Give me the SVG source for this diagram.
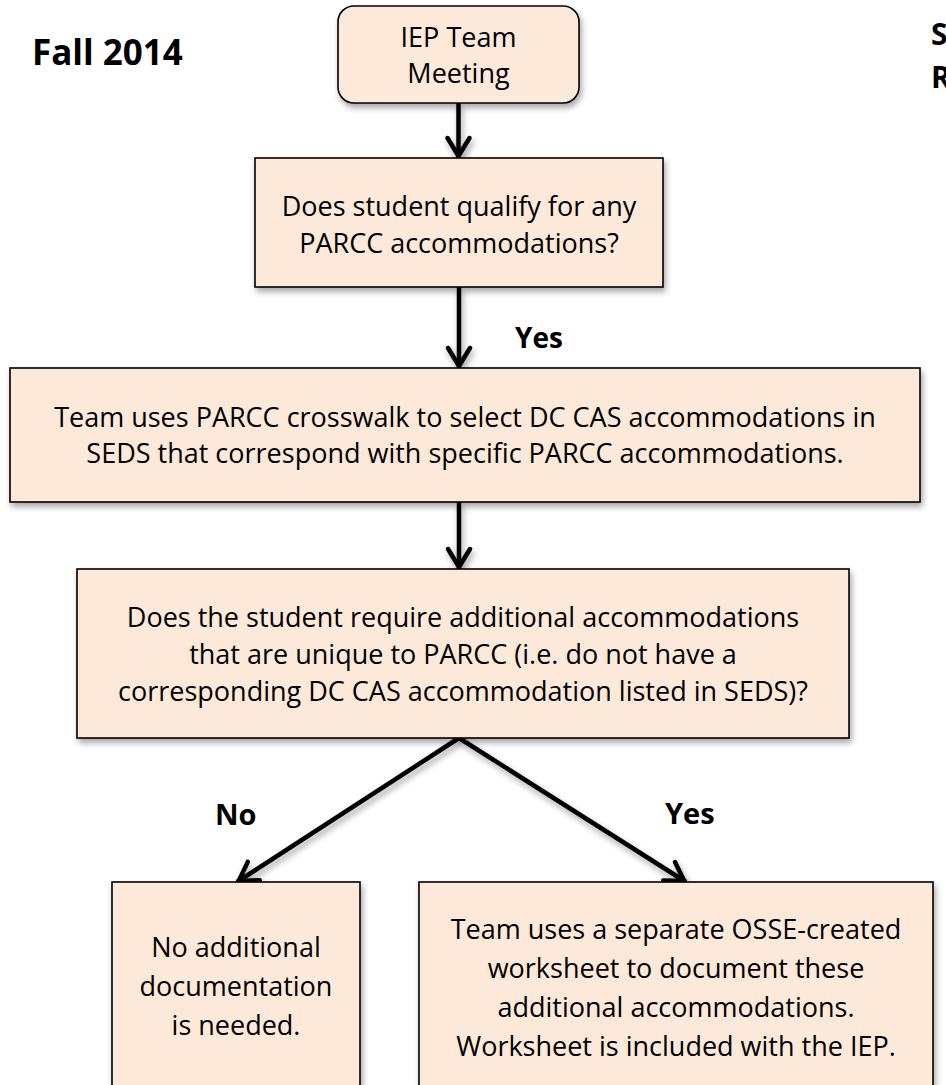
<svg xmlns="http://www.w3.org/2000/svg" width="946" height="1085" viewBox="0 0 946 1085">
<defs>
<style>
.box{fill:#FDE9D9;stroke:#000;stroke-width:1.6;filter:url(#sh)}
.t{font-family:"Open Sans","Noto Sans","Liberation Sans",sans-serif;font-size:27px;fill:#000;text-anchor:middle}
.b{font-family:"Open Sans","Noto Sans","Liberation Sans",sans-serif;font-weight:700;fill:#000}
.c{fill:none;stroke:#000;stroke-width:4.5;marker-end:url(#ah)}
</style>
<filter id="sh" x="-10%" y="-10%" width="120%" height="130%">
<feDropShadow dx="2" dy="4" stdDeviation="3" flood-color="#000" flood-opacity="0.35"/>
</filter>
<marker id="ah" markerUnits="userSpaceOnUse" markerWidth="40" markerHeight="40" viewBox="-30 -20 40 40" refX="0" refY="0" orient="auto">
<path d="M -20,-11 L -2,0 L -20,11" fill="none" stroke="#000" stroke-width="4.5" stroke-linecap="round" stroke-linejoin="round"/>
</marker>
</defs>
<rect width="946" height="1085" fill="#fff"/>
<text class="b" x="32" y="65" font-size="35">Fall 2014</text>
<text class="b" x="931" y="45" font-size="30">S</text>
<text class="b" x="931" y="88" font-size="30">R</text>

<g id="connectors" filter="url(#sh)">
<line class="c" x1="458.5" y1="103" x2="458.5" y2="158"/>
<line class="c" x1="459" y1="287" x2="459" y2="368"/>
<line class="c" x1="459" y1="502" x2="459" y2="569"/>
<line class="c" x1="459" y1="738" x2="237" y2="882"/>
<line class="c" x1="459" y1="738" x2="686" y2="882"/>
</g>
<text class="b" x="515" y="348" font-size="28">Yes</text>
<text class="b" x="215" y="825" font-size="29">No</text>
<text class="b" x="665" y="824" font-size="29">Yes</text>

<g id="n1">
<rect class="box" x="338" y="6" width="241" height="97" rx="16"/>
<text class="t" x="458.5" y="47">IEP Team</text>
<text class="t" x="458.5" y="83">Meeting</text>
</g>
<g id="n2">
<rect class="box" x="255" y="158" width="408" height="129"/>
<text class="t" x="459" y="216">Does student qualify for any</text>
<text class="t" x="459" y="253">PARCC accommodations?</text>
</g>
<g id="n3">
<rect class="box" x="10" y="368" width="910" height="134"/>
<text class="t" x="465" y="427" font-size="28.5">Team uses PARCC crosswalk to select DC CAS accommodations in</text>
<text class="t" x="465" y="463" font-size="28.5">SEDS that correspond with specific PARCC accommodations.</text>
</g>
<g id="n4">
<rect class="box" x="77" y="569" width="772" height="169"/>
<text class="t" x="463" y="627">Does the student require additional accommodations</text>
<text class="t" x="463" y="664">that are unique to PARCC (i.e. do not have a</text>
<text class="t" x="463" y="701">corresponding DC CAS accommodation listed in SEDS)?</text>
</g>
<g id="n5">
<rect class="box" x="112" y="882" width="248" height="220"/>
<text class="t" x="236" y="957">No additional</text>
<text class="t" x="236" y="996">documentation</text>
<text class="t" x="236" y="1035">is needed.</text>
</g>
<g id="n6">
<rect class="box" x="419" y="882" width="514" height="220"/>
<text class="t" x="676" y="939">Team uses a separate OSSE-created</text>
<text class="t" x="676" y="978">worksheet to document these</text>
<text class="t" x="676" y="1017">additional accommodations.</text>
<text class="t" x="676" y="1056">Worksheet is included with the IEP.</text>
</g>
</svg>
